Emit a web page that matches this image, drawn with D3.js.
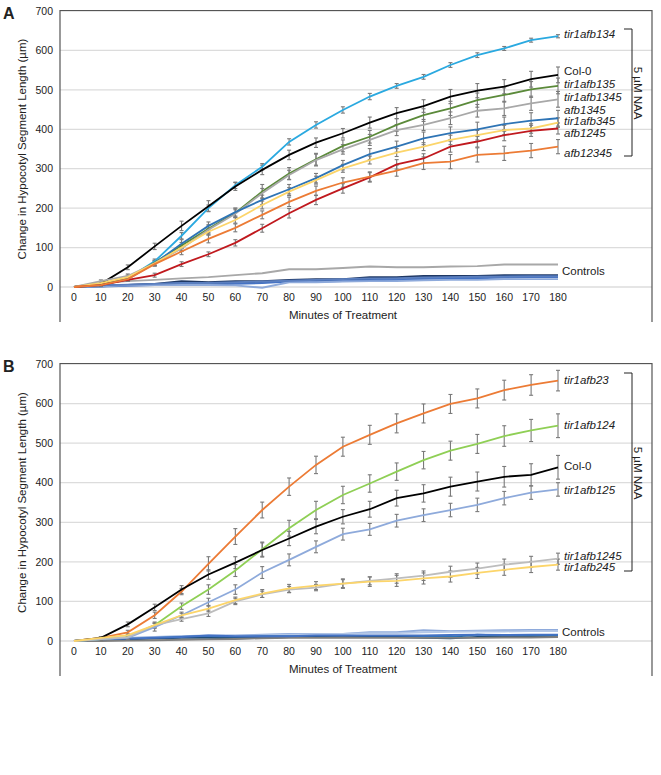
<!DOCTYPE html>
<html><head><meta charset="utf-8">
<script src="https://cdn.jsdelivr.net/npm/d3@7"></script>
<style>
html,body{margin:0;padding:0;background:#fff;}
svg text{font-family:"Liberation Sans",Arial,Helvetica,sans-serif;fill:#222;}
</style></head>
<body><svg id="c" width="661" height="775"></svg>
<script>
// ---------- DATA ----------
const minutes = [0,10,20,30,40,50,60,70,80,90,100,110,120,130,140,150,160,170,180];
const yTicks = [0,100,200,300,400,500,600,700];

// Panel A series
const A_names = ["tir1afb134","Col-0","tir1afb135","tir1afb1345","afb1345","tir1afb345","afb1245","afb12345"];
const A_colors = ["#2aa9e0","#000000","#5b8a3a","#a8a8a8","#2e74b5","#fcd56a","#c0191e","#ec7b35"];
const A_tir1afb134 = [0,5,22,65,130,200,258,305,368,411,449,483,510,533,563,588,605,626,636];
const A_col0       = [0,8,50,103,155,205,255,297,335,366,390,417,441,459,483,498,508,527,538];
const A_tir1afb135 = [0,8,22,62,105,148,188,242,288,324,358,381,411,436,453,474,487,501,510];
const A_tir1afb1345= [0,15,28,60,98,145,186,238,284,322,349,373,398,411,428,447,453,466,476];
const A_afb1345    = [0,5,20,60,110,155,190,221,248,276,309,337,356,377,390,400,413,422,428];
const A_tir1afb345 = [0,10,25,60,100,140,170,208,242,271,301,322,341,356,373,385,398,402,417];
const A_afb1245    = [0,5,18,30,58,83,112,149,187,221,250,278,311,326,356,369,385,396,402];
const A_afb12345   = [0,5,20,58,90,122,150,183,216,244,265,280,295,314,318,335,339,346,356];
const A_err_tir1afb134 = [0,3,5,6,8,8,8,8,8,8,8,8,6,6,6,6,5,5,4];
const A_err_col0       = [0,3,6,8,12,14,10,12,12,12,12,14,14,16,18,18,18,20,20];
const A_err_tir1afb135 = [0,3,5,6,8,10,12,18,15,15,15,16,16,16,18,18,18,20,20];
const A_err_tir1afb1345= [0,3,5,6,8,10,10,12,12,15,12,14,14,14,16,16,18,18,20];
const A_err_afb1345    = [0,3,5,6,10,10,10,12,12,12,12,14,14,16,16,18,18,20,20];
const A_err_tir1afb345 = [0,3,5,6,8,8,8,10,10,10,10,10,10,10,12,12,12,12,12];
const A_err_afb1245    = [0,3,4,5,6,6,8,10,12,12,12,12,12,12,14,14,14,14,14];
const A_err_afb12345   = [0,3,4,5,8,10,10,10,12,12,12,12,14,16,18,18,18,18,18];
// Panel A controls
const A_ctrl_colors = ["#a8a8a8","#1f3864","#2e5597","#4472c4","#8eaadb","#5b7fbf"];
const A_ctrl_gray = [0,10,15,18,22,25,30,35,45,45,48,52,50,50,52,53,57,57,57];
const A_ctrl_1 = [0,2,5,8,15,12,15,15,18,20,20,25,25,28,28,28,30,30,30];
const A_ctrl_2 = [0,3,5,7,10,8,10,12,15,17,18,20,22,22,25,25,27,28,28];
const A_ctrl_3 = [0,1,3,5,8,6,8,10,14,14,15,17,18,20,22,22,24,25,25];
const A_ctrl_4 = [0,2,4,5,5,5,4,-2,12,12,14,15,15,17,18,18,20,20,20];
const A_ctrl_5 = [0,4,6,8,10,10,12,14,16,18,20,22,22,24,25,26,26,27,27];

// Panel B series
const B_names = ["tir1afb23","tir1afb124","Col-0","tir1afb125","tir1afb1245","tir1afb245"];
const B_colors = ["#ec7b35","#8fcf55","#000000","#8eaadb","#bdbdbd","#fcd56a"];
const B_tir1afb23  = [0,8,22,65,125,195,264,331,390,445,491,521,550,575,599,613,634,647,658];
const B_tir1afb124 = [0,5,10,40,88,130,178,232,285,331,369,398,428,457,481,498,518,532,544];
const B_col0       = [0,8,42,85,130,168,198,230,259,289,314,333,361,373,390,403,415,420,439];
const B_tir1afb125 = [0,5,8,35,65,98,130,173,205,238,270,282,304,318,331,344,361,375,383];
const B_tir1afb1245= [0,5,10,40,55,70,100,118,130,135,145,152,158,165,175,183,193,200,208];
const B_tir1afb245 = [0,8,15,40,65,82,103,120,133,140,145,150,152,158,163,172,180,187,193];
const B_err_tir1afb23  = [0,3,5,8,8,18,20,20,22,22,24,24,24,24,24,24,25,26,26];
const B_err_tir1afb124 = [0,3,4,8,8,12,15,18,20,22,22,22,22,22,24,24,26,28,30];
const B_err_col0       = [0,3,6,8,10,12,15,18,18,18,18,20,20,22,24,24,26,28,30];
const B_err_tir1afb125 = [0,3,4,10,8,10,12,15,15,15,15,15,16,16,17,17,17,17,17];
const B_err_tir1afb1245= [0,3,3,5,5,8,8,8,8,8,10,10,12,12,14,14,14,14,14];
const B_err_tir1afb245 = [0,3,3,5,5,8,8,10,10,10,12,12,14,14,14,14,14,14,14];
// Panel B controls
const B_ctrl_colors = ["#8eaadb","#b4c7e7","#2e75b6","#1f4e79","#7f7f7f","#4472c4"];
const B_ctrl_1 = [0,5,8,10,12,14,14,16,18,18,18,22,22,27,25,26,27,28,28];
const B_ctrl_2 = [0,3,6,8,10,12,12,14,16,17,18,20,20,22,23,24,24,25,25];
const B_ctrl_3 = [0,3,5,8,10,12,10,12,12,12,12,12,13,10,10,16,14,14,14];
const B_ctrl_4 = [0,2,4,6,8,8,7,8,10,10,10,10,10,8,7,10,10,10,10];
const B_ctrl_5 = [0,0,1,2,3,4,5,7,8,8,9,8,8,8,8,8,9,9,10];
const B_ctrl_6 = [0,4,6,8,10,14,12,12,12,14,14,14,14,14,15,16,15,16,16];

const yTitle = "Change in Hypocotyl Segment Length (µm)";
const xTitle = "Minutes of Treatment";
const bracketText = "5 µM NAA";

// ---------- DRAW ----------
const svg = d3.select("#c");

function panel(cfg){
  const g = svg.append("g");
  const x = d3.scaleLinear().domain([0,180]).range([74,558]);
  const y = d3.scaleLinear().domain([0,700]).range([cfg.y0, cfg.yTop]);
  const L = 60, R = 652, bottom = cfg.y0 + 35;
  // gridlines
  g.selectAll(".grid").data(yTicks).join("line")
    .attr("x1",L).attr("x2",R).attr("y1",d=>y(d)).attr("y2",d=>y(d))
    .attr("stroke","#dcdcdc").attr("stroke-width",1.3);
  // frame (left, top, right)
  g.append("path").attr("d",`M${L},${bottom}V${cfg.yTop-0.5}H${R}V${bottom}`)
    .attr("fill","none").attr("stroke","#555").attr("stroke-width",1.2);
  // y tick labels
  g.selectAll(".yt").data(yTicks).join("text")
    .attr("x",53).attr("y",d=>y(d)).attr("dy","0.35em").attr("text-anchor","end")
    .attr("font-size",10.5).text(d=>d);
  // x tick labels
  g.selectAll(".xt").data(minutes).join("text")
    .attr("x",d=>x(d)).attr("y",cfg.y0+10).attr("dy","0.35em").attr("text-anchor","middle")
    .attr("font-size",10.5).text(d=>d);
  // titles
  g.append("text").attr("x",343).attr("y",cfg.y0+28).attr("dy","0.35em")
    .attr("text-anchor","middle").attr("font-size",11.5).text(xTitle);
  g.append("text").attr("transform",`translate(22,${(cfg.y0+cfg.yTop)/2}) rotate(-90)`)
    .attr("dy","0.35em").attr("text-anchor","middle").attr("font-size",11.5).text(yTitle);
  // panel letter
  g.append("text").attr("x",3).attr("y",cfg.yTop+8).attr("font-size",16)
    .attr("font-weight","bold").attr("fill","#000").text(cfg.letter);

  const line = d3.line().x((d,i)=>x(minutes[i])).y(d=>y(d));
  // controls
  cfg.ctrl.forEach((s,i)=>{
    g.append("path").attr("d",line(s)).attr("fill","none")
      .attr("stroke",cfg.ctrlColors[i]).attr("stroke-width",1.9);
  });
  // error bars
  cfg.series.forEach((s,k)=>{
    const e = cfg.errs[k];
    const pts = s.map((v,i)=>({t:minutes[i],v:v,e:e[i]})).filter(d=>d.t>0);
    const eg = g.append("g").attr("stroke","#7a7a7a").attr("stroke-width",1.1);
    eg.selectAll("line.v").data(pts).join("line")
      .attr("x1",d=>x(d.t)).attr("x2",d=>x(d.t)).attr("y1",d=>y(d.v-d.e)).attr("y2",d=>y(d.v+d.e));
    eg.selectAll("line.t").data(pts).join("line")
      .attr("x1",d=>x(d.t)-2).attr("x2",d=>x(d.t)+2).attr("y1",d=>y(d.v+d.e)).attr("y2",d=>y(d.v+d.e));
    eg.selectAll("line.b").data(pts).join("line")
      .attr("x1",d=>x(d.t)-2).attr("x2",d=>x(d.t)+2).attr("y1",d=>y(d.v-d.e)).attr("y2",d=>y(d.v-d.e));
  });
  // main series
  cfg.series.forEach((s,k)=>{
    g.append("path").attr("d",line(s)).attr("fill","none")
      .attr("stroke",cfg.colors[k]).attr("stroke-width",1.8);
  });
  // right labels
  cfg.labels.forEach(l=>{
    g.append("text").attr("x",l.x||564).attr("y",l.y).attr("dy","0.35em")
      .attr("font-size",11.5).attr("font-style",l.italic?"italic":"normal").text(l.t);
  });
  // bracket
  g.append("path").attr("d",`M624,${cfg.br[0]}H632V${cfg.br[1]}H624`)
    .attr("fill","none").attr("stroke","#222").attr("stroke-width",1);
  g.append("text").attr("transform",`translate(638,${cfg.brText}) rotate(90)`)
    .attr("dy","0.35em").attr("text-anchor","middle").attr("font-size",11.5).text(bracketText);
}

panel({
  letter:"A", yTop:11, y0:287,
  series:[A_tir1afb134,A_col0,A_tir1afb135,A_tir1afb1345,A_afb1345,A_tir1afb345,A_afb1245,A_afb12345],
  errs:[A_err_tir1afb134,A_err_col0,A_err_tir1afb135,A_err_tir1afb1345,A_err_afb1345,A_err_tir1afb345,A_err_afb1245,A_err_afb12345],
  colors:A_colors,
  ctrl:[A_ctrl_gray,A_ctrl_1,A_ctrl_2,A_ctrl_3,A_ctrl_4,A_ctrl_5], ctrlColors:A_ctrl_colors,
  labels:[
    {t:A_names[0],y:34,italic:true},{t:A_names[1],y:71},{t:A_names[2],y:84,italic:true},
    {t:A_names[3],y:97,italic:true},{t:A_names[4],y:110,italic:true},{t:A_names[5],y:121,italic:true},
    {t:A_names[6],y:133,italic:true},{t:A_names[7],y:153,italic:true},{t:"Controls",y:271,x:562}
  ],
  br:[29,156], brText:93
});
panel({
  letter:"B", yTop:364, y0:641,
  series:[B_tir1afb23,B_tir1afb124,B_col0,B_tir1afb125,B_tir1afb1245,B_tir1afb245],
  errs:[B_err_tir1afb23,B_err_tir1afb124,B_err_col0,B_err_tir1afb125,B_err_tir1afb1245,B_err_tir1afb245],
  colors:B_colors,
  ctrl:[B_ctrl_1,B_ctrl_2,B_ctrl_3,B_ctrl_4,B_ctrl_5,B_ctrl_6], ctrlColors:B_ctrl_colors,
  labels:[
    {t:B_names[0],y:380,italic:true},{t:B_names[1],y:425,italic:true},{t:B_names[2],y:466},
    {t:B_names[3],y:490,italic:true},{t:B_names[4],y:556,italic:true},{t:B_names[5],y:567,italic:true},
    {t:"Controls",y:632,x:562}
  ],
  br:[373,571], brText:473
});
</script></body></html>
